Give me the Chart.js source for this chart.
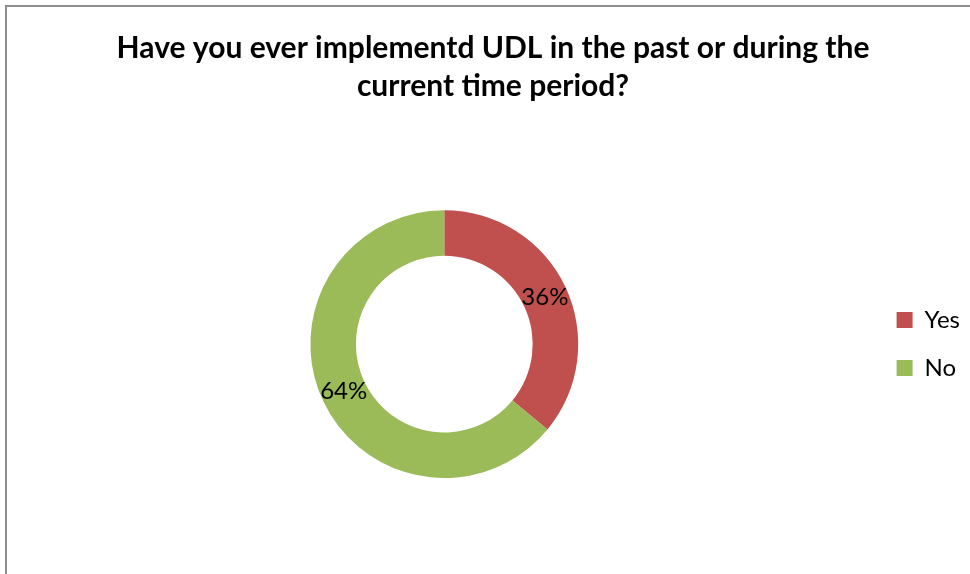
<!DOCTYPE html>
<html>
<head>
<meta charset="utf-8">
<title>UDL survey</title>
<script src="https://cdn.jsdelivr.net/npm/chart.js@4.4.1/dist/chart.umd.min.js"></script>
<style>
  html, body { margin: 0; padding: 0; background: #fff; overflow: hidden; }
  .frame {
    position: absolute; left: 5px; top: 5px;
    width: 1000px; height: 620px;
    border: 2px solid #8e8e8e;
  }
  .wrap { position: absolute; left: 0; top: 0; width: 970px; height: 574px; }
</style>
</head>
<body>
<div class="frame"></div>
<div class="wrap"><canvas id="udlChart"></canvas></div>
<script>
// survey answers, percent of respondents
var answers = ['Yes', 'No'];
var shares = [36, 64];
var sliceColors = ['#C0504D', '#9BBB59'];
var titleLines = ['Have you ever implementd UDL in the past or during the', 'current time period?'];

// percentage labels placed at the middle of each ring segment
var sliceLabels = {
    id: 'sliceLabels',
    afterDatasetsDraw: function (chart) {
        var ctx = chart.ctx;
        var meta = chart.getDatasetMeta(0);
        ctx.save();
        ctx.font = '24px Lato';
        ctx.fillStyle = '#000';
        ctx.textAlign = 'center';
        ctx.textBaseline = 'middle';
        meta.data.forEach(function (arc, i) {
            var pos = arc.tooltipPosition();
            ctx.fillText(chart.data.datasets[0].data[i] + '%', pos.x, pos.y);
        });
        ctx.restore();
    }
};

var ctx = document.getElementById('udlChart').getContext('2d');
new Chart(ctx, {
    type: 'doughnut',
    data: {
        labels: answers,
        datasets: [{
            data: shares,
            backgroundColor: sliceColors,
            borderWidth: 0
        }]
    },
    options: {
        responsive: true,
        maintainAspectRatio: false,
        animation: false,
        cutout: '66%',
        layout: {
            padding: { left: 16, right: 0, top: 0, bottom: 96 }
        },
        plugins: {
            title: {
                display: true,
                text: titleLines,
                color: '#000',
                font: { family: 'Lato', size: 30, weight: 'bold', lineHeight: 1.27 },
                padding: { top: 29, bottom: 105 }
            },
            legend: {
                position: 'right',
                fullSize: false,
                labels: {
                    color: '#000',
                    font: { family: 'Lato', size: 24 },
                    boxWidth: 16,
                    boxHeight: 16,
                    padding: 24
                }
            },
            tooltip: { enabled: false }
        }
    },
    plugins: [sliceLabels]
});
</script>
</body>
</html>
